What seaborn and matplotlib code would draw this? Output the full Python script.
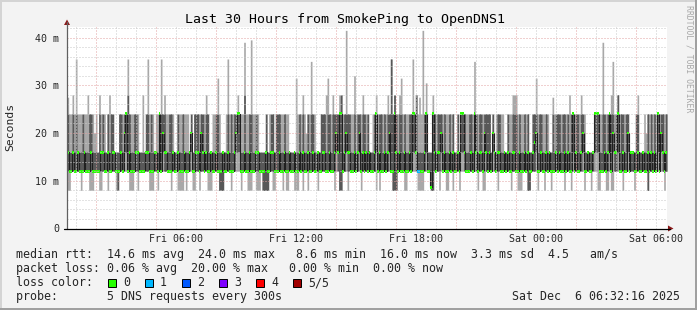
import matplotlib
matplotlib.use("Agg")
import matplotlib.pyplot as plt
from matplotlib.patches import Rectangle, Polygon
from matplotlib.lines import Line2D
import numpy as np
import pandas as pd
import seaborn as sns

# ---------------- data (ms), one entry per 5-minute step, 12 per hour row ----------------
ping1_ms = [  # fastest of the 5 requests
    8, 8, 12, 12, 12, 12, 12, 12, 8, 12, 12, 12,
    12, 8, 8, 8, 12, 12, 12, 8, 8, 12, 12, 12,
    8, 12, 12, 12, 12, 8, 8, 12, 12, 12, 12, 12,
    12, 8, 8, 8, 12, 12, 8, 12, 12, 12, 12, 12,
    12, 8, 8, 8, 12, 12, 8, 12, 12, 12, 12, 12,
    12, 12, 8, 12, 12, 12, 8, 8, 8, 8, 12, 8,
    12, 12, 12, 8, 8, 12, 12, 8, 12, 12, 12, 12,
    8, 8, 8, 12, 12, 12, 12, 8, 8, 8, 12, 12,
    12, 12, 8, 12, 12, 12, 12, 12, 8, 12, 12, 12,
    8, 8, 8, 12, 12, 8, 8, 8, 12, 8, 8, 8,
    8, 12, 12, 8, 8, 12, 12, 12, 12, 8, 12, 8,
    8, 12, 12, 12, 8, 8, 8, 12, 12, 8, 12, 12,
    8, 12, 12, 12, 12, 12, 8, 12, 12, 12, 12, 12,
    12, 12, 12, 12, 8, 12, 12, 8, 8, 12, 12, 12,
    8, 12, 12, 12, 12, 12, 12, 12, 8, 12, 12, 12,
    12, 12, 12, 12, 12, 8, 12, 8, 12, 12, 12, 12,
    12, 12, 12, 8, 8, 8, 12, 12, 12, 12, 8, 8,
    12, 12, 12, 12, 12, 12, 8, 8, 8, 8, 12, 12,
    12, 12, 8, 8, 12, 12, 12, 8, 12, 12, 12, 8,
    8, 12, 12, 8, 12, 12, 12, 8, 12, 12, 12, 12,
    12, 12, 12, 12, 12, 12, 8, 12, 12, 8, 8, 12,
    12, 12, 12, 12, 12, 12, 8, 12, 12, 12, 12, 12,
    12, 12, 8, 12, 12, 12, 8, 8, 8, 12, 12, 12,
    8, 8, 12, 12, 12, 12, 8, 12, 12, 12, 8, 12,
    12, 12, 8, 12, 12, 12, 12, 12, 12, 12, 8, 12,
    12, 12, 8, 12, 12, 12, 12, 12, 12, 12, 8, 12,
    12, 12, 8, 12, 12, 12, 8, 8, 12, 12, 12, 8,
    8, 12, 8, 8, 12, 12, 12, 12, 12, 8, 12, 12,
    12, 12, 12, 12, 8, 12, 12, 12, 12, 12, 12, 12,
    8, 12, 12, 12, 12, 12, 12, 12, 12, 12, 8, 12,
]
ping2_ms = [
    12, 12, 12, 12, 12, 12, 12, 12, 12, 12, 12, 12,
    12, 12, 12, 12, 12, 12, 12, 12, 12, 12, 12, 12,
    12, 12, 12, 12, 12, 12, 8, 12, 12, 12, 16, 16,
    12, 12, 12, 12, 12, 12, 12, 12, 12, 12, 12, 12,
    12, 12, 12, 12, 12, 12, 12, 16, 12, 16, 12, 12,
    12, 12, 12, 12, 12, 12, 12, 12, 12, 12, 12, 12,
    12, 12, 16, 12, 12, 12, 12, 12, 12, 12, 12, 12,
    12, 12, 12, 12, 12, 12, 12, 8, 8, 8, 12, 12,
    12, 12, 12, 12, 12, 16, 16, 16, 12, 12, 12, 12,
    12, 12, 12, 12, 12, 12, 12, 12, 12, 8, 8, 8,
    8, 12, 12, 12, 12, 12, 12, 12, 12, 12, 12, 12,
    12, 12, 12, 12, 12, 12, 12, 12, 12, 12, 12, 12,
    12, 12, 12, 12, 12, 12, 12, 12, 12, 12, 12, 12,
    12, 12, 12, 12, 12, 16, 12, 8, 8, 12, 12, 16,
    12, 12, 12, 12, 12, 12, 12, 16, 12, 12, 12, 12,
    12, 12, 12, 12, 12, 16, 12, 12, 12, 12, 12, 12,
    12, 16, 12, 8, 8, 8, 12, 12, 12, 12, 12, 12,
    12, 12, 12, 16, 16, 12, 12, 12, 12, 12, 12, 16,
    12, 12, 8, 8, 12, 12, 12, 12, 16, 12, 12, 12,
    12, 12, 12, 12, 12, 12, 12, 12, 16, 16, 12, 12,
    12, 12, 12, 12, 16, 12, 12, 12, 12, 12, 16, 12,
    12, 12, 12, 16, 12, 12, 12, 12, 12, 12, 12, 12,
    12, 12, 12, 12, 12, 12, 12, 12, 12, 12, 12, 12,
    8, 8, 12, 12, 12, 16, 12, 12, 12, 12, 12, 12,
    12, 12, 12, 12, 12, 12, 12, 12, 12, 12, 12, 12,
    12, 12, 12, 16, 12, 12, 12, 12, 12, 16, 12, 12,
    12, 12, 12, 12, 16, 16, 16, 12, 12, 12, 12, 12,
    12, 16, 12, 16, 12, 12, 16, 12, 12, 12, 12, 12,
    16, 12, 12, 12, 12, 12, 12, 12, 12, 12, 12, 12,
    8, 12, 12, 12, 12, 12, 16, 12, 16, 12, 12, 12,
]
median_ms = [
    16, 12, 12, 16, 12, 12, 16, 12, 12, 12, 16, 12,
    12, 12, 16, 12, 12, 12, 12, 12, 16, 16, 12, 12,
    16, 12, 12, 16, 16, 12, 12, 12, 16, 12, 20, 24,
    12, 16, 12, 12, 12, 16, 16, 12, 12, 12, 12, 16,
    16, 12, 12, 12, 16, 16, 12, 24, 12, 20, 16, 16,
    12, 12, 12, 16, 12, 12, 16, 12, 12, 12, 16, 12,
    12, 16, 20, 12, 12, 16, 16, 12, 20, 16, 12, 16,
    12, 12, 16, 12, 12, 16, 12, 12, 12, 16, 12, 12,
    16, 12, 12, 12, 16, 20, 24, 24, 12, 12, 16, 12,
    12, 16, 12, 12, 12, 16, 16, 12, 12, 12, 12, 16,
    12, 12, 16, 16, 12, 12, 12, 16, 12, 12, 16, 12,
    12, 16, 12, 12, 16, 12, 12, 16, 12, 16, 12, 12,
    16, 12, 12, 16, 12, 12, 16, 12, 12, 16, 16, 12,
    12, 16, 12, 12, 16, 20, 16, 24, 24, 12, 16, 20,
    16, 16, 12, 12, 16, 12, 16, 20, 12, 16, 12, 16,
    12, 16, 12, 12, 16, 24, 12, 16, 12, 12, 16, 12,
    16, 20, 12, 12, 24, 16, 12, 16, 12, 12, 16, 12,
    12, 16, 12, 24, 24, 16, 12, 12, 12, 12, 16, 24,
    12, 12, 8.6, 24, 16, 12, 16, 16, 20, 12, 16, 12,
    12, 16, 12, 16, 12, 12, 16, 12, 24, 24, 16, 12,
    12, 12, 16, 12, 24, 16, 12, 16, 16, 12, 20, 16,
    12, 16, 12, 20, 16, 12, 16, 16, 12, 12, 16, 12,
    16, 12, 12, 16, 16, 12, 12, 16, 12, 12, 16, 12,
    16, 12, 12, 16, 18, 20, 12, 12, 16, 12, 12, 16,
    12, 16, 12, 12, 12, 16, 12, 16, 12, 12, 16, 12,
    16, 12, 12, 24, 12, 16, 12, 12, 16, 20, 12, 12,
    16, 12, 12, 16, 24, 24, 24, 12, 12, 12, 16, 12,
    16, 24, 12, 20, 16, 16, 24, 12, 12, 16, 12, 12,
    20, 12, 16, 16, 12, 12, 16, 12, 12, 16, 12, 12,
    16, 12, 16, 12, 16, 12, 24, 12, 20, 16, 12, 16,
]
ping4_ms = [
    24, 16, 16, 24, 16, 24, 16, 16, 16, 24, 16, 16,
    16, 24, 24, 16, 16, 16, 16, 24, 16, 24, 16, 16,
    24, 16, 24, 24, 16, 16, 16, 24, 24, 16, 24, 24,
    28, 24, 16, 16, 24, 24, 16, 16, 16, 16, 16, 24,
    24, 16, 24, 16, 16, 16, 16, 24, 24, 24, 24, 16,
    16, 24, 24, 16, 16, 16, 24, 16, 16, 24, 16, 16,
    16, 16, 24, 16, 24, 24, 24, 16, 24, 24, 16, 24,
    24, 16, 16, 16, 16, 24, 24, 16, 16, 16, 16, 16,
    24, 16, 24, 16, 24, 24, 24, 24, 16, 16, 28, 16,
    16, 24, 24, 16, 16, 24, 16, 16, 16, 16, 16, 24,
    16, 16, 24, 24, 16, 24, 24, 24, 16, 16, 24, 16,
    16, 16, 16, 16, 16, 16, 16, 24, 16, 24, 16, 16,
    24, 16, 24, 24, 16, 16, 16, 16, 24, 24, 24, 16,
    24, 24, 16, 24, 24, 24, 24, 24, 28, 16, 24, 24,
    24, 24, 16, 16, 24, 16, 24, 24, 16, 24, 24, 16,
    24, 16, 16, 16, 24, 24, 16, 24, 24, 16, 24, 16,
    24, 24, 35.5, 24, 28, 24, 16, 24, 24, 16, 24, 16,
    16, 24, 24, 24, 24, 28, 16, 16, 16, 16, 24, 24,
    16, 16, 16, 24, 24, 16, 24, 24, 24, 16, 24, 16,
    16, 24, 16, 24, 16, 16, 24, 16, 24, 24, 24, 16,
    16, 24, 24, 16, 24, 24, 16, 24, 24, 16, 24, 24,
    24, 24, 16, 24, 16, 16, 24, 24, 16, 16, 16, 16,
    24, 16, 16, 24, 24, 24, 16, 24, 16, 16, 24, 16,
    24, 16, 16, 24, 24, 24, 16, 24, 24, 16, 16, 24,
    16, 16, 16, 24, 16, 24, 24, 24, 16, 24, 24, 16,
    24, 16, 24, 24, 16, 24, 24, 16, 24, 24, 16, 16,
    16, 16, 16, 16, 24, 24, 24, 16, 16, 24, 24, 16,
    24, 24, 24, 24, 16, 24, 28, 16, 24, 24, 16, 24,
    24, 16, 16, 16, 16, 24, 24, 16, 16, 16, 16, 16,
    24, 16, 24, 16, 24, 16, 24, 16, 24, 24, 16, 24,
]
ping5_ms = [  # slowest of the 5 requests
    27.5, 24, 24, 28, 24, 35.5, 24, 24, 24, 24, 24, 24,
    28, 24, 24, 24, 20, 24, 16, 28, 24, 24, 24, 16,
    24, 28, 24, 24, 16, 16, 16, 24, 24, 24, 24, 24,
    35.5, 24, 24, 24, 24, 24, 24, 16, 16, 28, 16, 24,
    35.5, 24, 24, 24, 16, 24, 24, 24, 35.5, 24, 28, 24,
    24, 24, 24, 24, 16, 16, 24, 24, 24, 24, 24, 24,
    24, 16, 24, 16, 24, 24, 24, 24, 24, 24, 24, 28,
    24, 16, 16, 24, 24, 24, 31.5, 24, 16, 16, 16, 24,
    35.5, 24, 24, 24, 24, 24, 28, 24, 24, 24, 39, 24,
    24, 24, 39.5, 24, 24, 24, 24, 16, 16, 16, 16, 24,
    16, 24, 24, 24, 16, 24, 24, 24, 24, 24, 24, 24,
    24, 16, 16, 16, 16, 31.5, 24, 24, 24, 28, 24, 20,
    24, 24, 35, 24, 24, 16, 16, 16, 24, 24, 24, 28,
    31.5, 24, 24, 28, 24, 24, 24, 28, 28, 24, 24, 41.5,
    24, 24, 24, 24, 32, 24, 24, 24, 24, 28, 24, 24,
    24, 16, 16, 24, 24, 28, 24, 24, 24, 24, 24, 24,
    28, 24, 35.5, 24, 28, 24, 24, 28, 31.5, 24, 24, 24,
    24, 24, 24, 35.5, 24, 28, 24, 27.5, 24, 41.5, 24, 30.5,
    16, 16, 16, 28, 24, 24, 24, 24, 24, 24, 24, 24,
    24, 24, 24, 24, 16, 16, 24, 16, 24, 24, 24, 24,
    24, 24, 24, 24, 35, 24, 24, 24, 24, 24, 24, 24,
    24, 24, 16, 24, 16, 24, 24, 24, 24, 24, 16, 16,
    24, 24, 24, 28, 28, 28, 24, 24, 24, 24, 24, 24,
    24, 16, 16, 24, 24, 31.5, 24, 24, 24, 24, 24, 24,
    24, 16, 16, 27.5, 24, 24, 24, 24, 24, 24, 24, 24,
    24, 28, 24, 24, 24, 24, 24, 24, 28, 24, 24, 16,
    16, 16, 16, 16, 24, 24, 24, 24, 24, 39, 24, 24,
    24, 24, 28, 35, 24, 24, 28, 24, 24, 24, 24, 24,
    24, 16, 16, 16, 16, 24, 28, 16, 16, 16, 24, 20,
    24, 24, 24, 24, 24, 24, 24, 24, 24, 24, 24, 24,
]
lost_pings = [0] * 210 + [1, 1] + [0] * 148

loss_labels = ["0", "1", "2", "3", "4", "5/5"]
loss_colors = ["#26ff00", "#00b8ff", "#0059ff", "#7e00ff", "#ff0000", "#a10000"]

x_tick_labels = ["", "Fri 06:00", "", "Fri 12:00", "", "Fri 18:00", "", "Sat 00:00", "", "Sat 06:00"]
y_tick_values = [0, 10, 20, 30, 40]
y_tick_labels = ["0", "10 m", "20 m", "30 m", "40 m"]

title = "Last 30 Hours from SmokePing to OpenDNS1"
stats_rtt = "median rtt:  14.6 ms avg  24.0 ms max   8.6 ms min  16.0 ms now  3.3 ms sd  4.5   am/s"
stats_loss = "packet loss: 0.06 % avg  20.00 % max   0.00 % min  0.00 % now"
probe_line = "probe:       5 DNS requests every 300s"
stamp = "Sat Dec  6 06:32:16 2025"

# ---------------- style ----------------
sns.set_style("white")
plt.rcParams["font.family"] = ["DejaVu Sans Mono", "DejaVu Sans"]
plt.rcParams["lines.scale_dashes"] = False

W, H = 697, 310
fig = plt.figure(figsize=(W / 100, H / 100), dpi=100, facecolor="#f3f3f3")


def fx(px):
    return px / W


def fy(py):
    return 1 - py / H


# 3D border like rrdtool
fig.add_artist(Rectangle((0, fy(2)), 1, 2 / H, transform=fig.transFigure, color="#d4d4d4", lw=0))
fig.add_artist(Rectangle((0, 0), 2 / W, 1, transform=fig.transFigure, color="#d4d4d4", lw=0))
fig.add_artist(Rectangle((0, 0), 1, 2 / H, transform=fig.transFigure, color="#a0a0a0", lw=0))
fig.add_artist(Rectangle((fx(W - 2), 0), 2 / W, 1, transform=fig.transFigure, color="#a0a0a0", lw=0))

ax = fig.add_axes([fx(67), fy(228.5), fx(667) - fx(67), fy(27) - fy(228.5)])
ax.set_facecolor("white")

step_h = 5 / 60
n = len(median_ms)
t = np.arange(n + 1) * step_h


def ext(a):
    a = np.asarray(a, dtype=float)
    return np.append(a, a[-1])


ax.fill_between(t, ext(ping1_ms), ext(ping5_ms), step="post", color="#a8a8a8", lw=0, zorder=1)
ax.fill_between(t, ext(ping2_ms), ext(ping4_ms), step="post", color="#585858", lw=0, zorder=2)

df = pd.DataFrame({"t": t, "median": ext(median_ms)})
sns.lineplot(data=df, x="t", y="median", drawstyle="steps-post", color="#202020",
             lw=0.8, ax=ax, estimator=None, sort=False, zorder=3)

med = np.asarray(median_ms, dtype=float)
bar_cols = [loss_colors[k] for k in lost_pings]
ax.bar(t[:-1], 0.62, bottom=med - 0.31, width=step_h, align="edge", color=bar_cols,
       lw=0, zorder=4)

ax.set_xlim(0, 30)
ax.set_ylim(0, 42.2)

# grid on top, rrdtool style dotted
t0 = 5.4622 - 5  # first full hour (01:00)
for k in range(30):
    xv = t0 + k
    major = (k + 1) % 3 == 2
    ax.axvline(xv, color="#e3a3a3" if major else "#c8c8c8", lw=0.72,
               dashes=(0.72, 1.44), zorder=5)
for yv in np.arange(2, 42.2, 2):
    major = abs(yv % 10) < 1e-6
    ax.axhline(yv, color="#e3a3a3" if major else "#c8c8c8", lw=0.72,
               dashes=(0.72, 1.44), zorder=5)

for s in ax.spines.values():
    s.set_visible(False)

ax.set_xticks([2.4622 + 3 * k for k in range(10)])
ax.set_xticklabels(x_tick_labels, fontsize=7.2)
ax.set_yticks(y_tick_values)
ax.set_yticklabels(y_tick_labels, fontsize=7.2)
ax.tick_params(axis="x", direction="out", length=3, color="#d08080", pad=1.2)
ax.tick_params(axis="y", direction="out", length=3, color="#505050", pad=2.5)
ax.set_xlabel("")
ax.set_ylabel("")

# axes lines and arrows
fig.add_artist(Line2D([fx(67), fx(67)], [fy(228.5), fy(22)], transform=fig.transFigure,
                      color="#606060", lw=0.9))
fig.add_artist(Line2D([fx(64), fx(670)], [fy(228.5), fy(228.5)], transform=fig.transFigure,
                      color="black", lw=0.9))
fig.add_artist(Polygon([(fx(64), fy(25)), (fx(70), fy(25)), (fx(67), fy(19.5))],
                       closed=True, transform=fig.transFigure, color="#8b1a1a", lw=0))
fig.add_artist(Polygon([(fx(668), fy(225.5)), (fx(668), fy(231.5)), (fx(673.5), fy(228.5))],
                       closed=True, transform=fig.transFigure, color="#8b1a1a", lw=0))

# texts
fig.text(fx(345), fy(19), title, ha="center", va="center", fontsize=9.5, color="black")
fig.text(fx(10), fy(127), "Seconds", rotation=90, ha="center", va="center", fontsize=8.2)
fig.text(fx(688.5), fy(59), "RRDTOOL / TOBI OETIKER", rotation=270, ha="center", va="center",
         fontsize=5.9, color="#a8a8a8")

fs = 8.37
fig.text(fx(16), fy(258), stats_rtt, ha="left", va="baseline", fontsize=fs)
fig.text(fx(16), fy(272), stats_loss, ha="left", va="baseline", fontsize=fs)
fig.text(fx(16), fy(286), "loss color:", ha="left", va="baseline", fontsize=fs)
for i, (lab, col) in enumerate(zip(loss_labels, loss_colors)):
    bx = 108 + 37 * i
    fig.add_artist(Rectangle((fx(bx), fy(286.5)), 8 / W, 8 / H, transform=fig.transFigure,
                             facecolor=col, edgecolor="black", lw=0.7))
    fig.text(fx(bx + 15), fy(286), lab, ha="left", va="baseline", fontsize=fs)
fig.text(fx(16), fy(300), probe_line, ha="left", va="baseline", fontsize=fs)
fig.text(fx(680), fy(300), stamp, ha="right", va="baseline", fontsize=fs)

fig.savefig("out.png", dpi=100, facecolor=fig.get_facecolor())
